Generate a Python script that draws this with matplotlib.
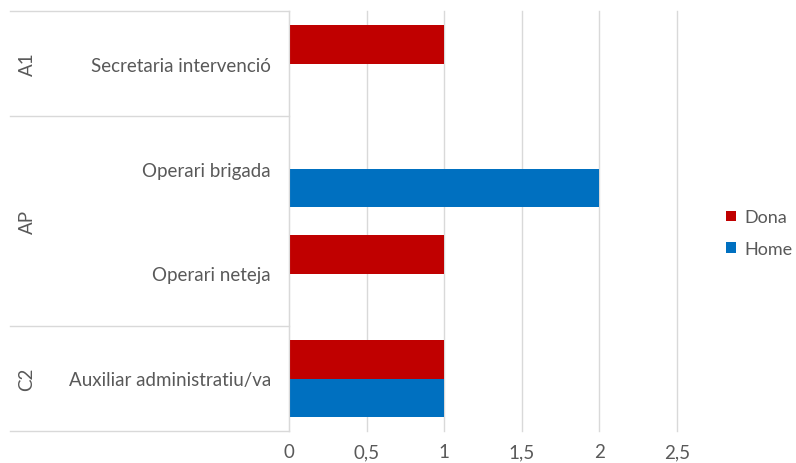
import numpy as np
import matplotlib.pyplot as plt
from matplotlib.transforms import blended_transform_factory

# Data (bottom to top, as drawn)
groups = ['C2', 'AP', 'AP', 'A1']
categories = ['Auxiliar administratiu/va', 'Operari neteja', 'Operari brigada', 'Secretaria intervenció']
dona = [1, 1, 0, 1]
home = [1, 0, 2, 0]
xticks = [0, 0.5, 1, 1.5, 2, 2.5]
xtick_labels = ['0', '0,5', '1', '1,5', '2', '2,5']

plt.rcParams['font.family'] = ['Lato', 'DejaVu Sans']
text_color = '#595959'
grid_color = '#d9d9d9'
fs = 13.5

fig = plt.figure(figsize=(7.96, 4.64), dpi=100)
ax = fig.add_axes([289/796, 32/464, 388/796, 420/464])

y = np.arange(len(categories))
h = 0.362
ax.barh(y + h/2, dona, height=h, color='#c00000', label='Dona', zorder=3)
ax.barh(y - h/2, home, height=h, color='#0070c0', label='Home', zorder=3)

ax.set_xlim(0, 2.5)
ax.set_ylim(-0.5, len(categories) - 0.5)
ax.set_xticks(xticks)
ax.set_xticklabels(xtick_labels)
ax.set_yticks(y)
ax.set_yticklabels(categories)
ax.tick_params(axis='both', length=0, colors=text_color, labelsize=fs)
ax.tick_params(axis='y', pad=13)
ax.tick_params(axis='x', pad=9)

ax.grid(axis='x', color=grid_color, linewidth=1, zorder=0)
for gl in ax.get_xgridlines():
    gl.set_clip_on(False)
for s in ['top', 'right', 'bottom']:
    ax.spines[s].set_visible(False)
ax.spines['left'].set_color(grid_color)
ax.spines['left'].set_zorder(4)

# group separators and labels
trans = blended_transform_factory(ax.transAxes, ax.transData)
x_left = (10 - 289) / 388
bounds = [-0.5]
labels_pos = []
start = 0
for i in range(1, len(groups) + 1):
    if i == len(groups) or groups[i] != groups[start]:
        bounds.append(i - 0.5)
        labels_pos.append((groups[start], (start + i - 1) / 2))
        start = i
for b in bounds:
    ax.plot([x_left, 0], [b, b], transform=trans, color=grid_color,
            linewidth=1, clip_on=False)
for name, pos in labels_pos:
    ax.text((27 - 289) / 388, pos, name, transform=trans, rotation=90,
            ha='center', va='center', color=text_color, fontsize=fs)

leg = fig.legend(loc='center left', bbox_to_anchor=(726/796, 1 - 234/464),
                 frameon=False, handlelength=0.55, handleheight=0.55,
                 labelspacing=0.85, fontsize=13, handletextpad=0.45,
                 borderpad=0, borderaxespad=0)
for t in leg.get_texts():
    t.set_color(text_color)

fig.savefig('out.png', dpi=100)
